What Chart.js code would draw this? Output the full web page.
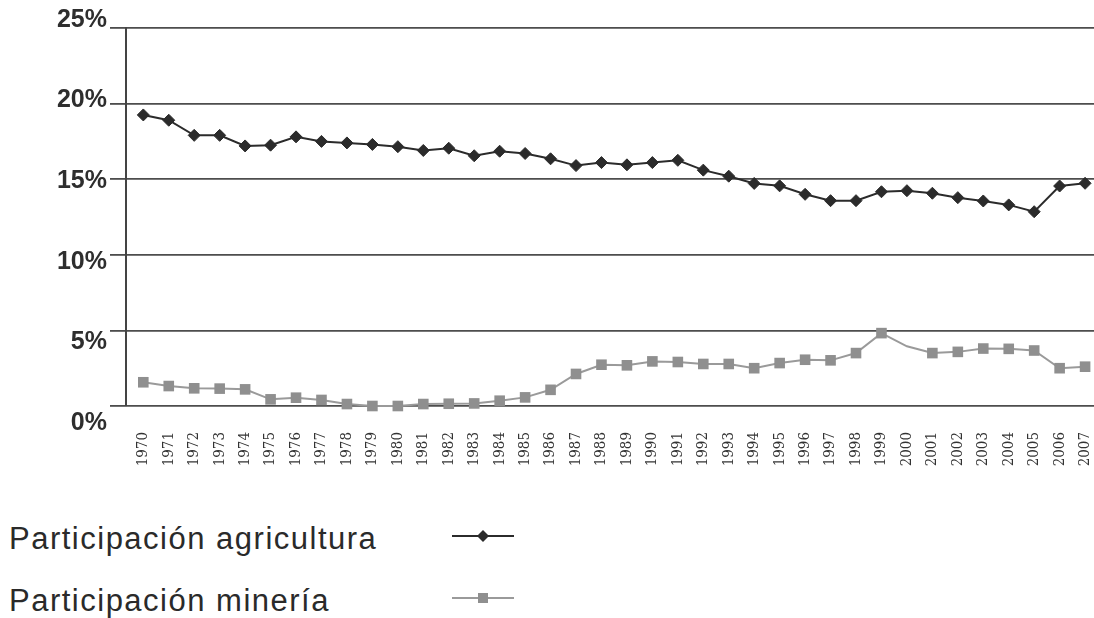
<!DOCTYPE html>
<html lang="es">
<head>
  <meta charset="UTF-8" />
  <title>Participación agricultura y minería</title>
  <script src="https://cdn.jsdelivr.net/npm/chart.js"></script>
  <style>
    html, body {
      margin: 0;
      overflow: hidden;
      background: #fff;
      font-family: 'Liberation Sans', Arial, sans-serif;
      color: #2a2a2a;
    }

    .chart-box {
      position: absolute;
      left: 0;
      top: 0;
      width: 1094px;
      height: 476px;
    }

    .legend {
      position: absolute;
      left: 9px;
      top: 508px;
    }

    .legend-row {
      display: flex;
      align-items: center;
      height: 62px;
      font-size: 31px;
      letter-spacing: 1.5px;
    }

    .legend-row span {
      width: 443px;
    }

    .legend-row svg {
      margin-top: -6px;
    }
  </style>
</head>
<body>

  <div class="chart-box">
    <canvas id="grafico"></canvas>
  </div>
  <div class="legend" id="leyenda"></div>

  <script>
    // Datos
    const years = [1970, 1971, 1972, 1973, 1974, 1975, 1976, 1977, 1978, 1979,
                   1980, 1981, 1982, 1983, 1984, 1985, 1986, 1987, 1988, 1989,
                   1990, 1991, 1992, 1993, 1994, 1995, 1996, 1997, 1998, 1999,
                   2000, 2001, 2002, 2003, 2004, 2005, 2006, 2007];

    const agricultura = [19.25, 18.9, 17.9, 17.9, 17.2, 17.25, 17.8, 17.5, 17.4, 17.3,
                         17.15, 16.9, 17.05, 16.55, 16.85, 16.7, 16.35, 15.9, 16.1, 15.95,
                         16.1, 16.25, 15.6, 15.2, 14.72, 14.56, 14.0, 13.58, 13.58, 14.17,
                         14.24, 14.07, 13.78, 13.56, 13.3, 12.85, 14.55, 14.73];

    const mineria = [1.57, 1.32, 1.17, 1.15, 1.1, 0.44, 0.55, 0.4, 0.13, 0.0,
                     0.0, 0.13, 0.15, 0.17, 0.35, 0.57, 1.07, 2.12, 2.73, 2.69,
                     2.95, 2.91, 2.78, 2.78, 2.5, 2.84, 3.06, 3.02, 3.5, 4.82,
                     3.95, 3.5, 3.58, 3.8, 3.78, 3.67, 2.5, 2.6];

    const yTicks = [0, 5, 10, 15, 20, 25];

    const toPoints = (values) => values.map((v, i) => ({ x: years[i], y: v }));

    const ctx = document.getElementById('grafico').getContext('2d');
    const grafico = new Chart(ctx, {
      type: 'line',
      data: {
        datasets: [{
          label: 'Participación agricultura',
          data: toPoints(agricultura),
          borderColor: '#2b2b2b',
          backgroundColor: '#2b2b2b',
          borderWidth: 2,
          pointStyle: 'rectRot',
          pointRadius: 6,
          pointBorderWidth: 1,
          tension: 0,
          clip: false
        }, {
          label: 'Participación minería',
          data: toPoints(mineria),
          borderColor: '#9a9a9a',
          backgroundColor: '#8f8f8f',
          borderWidth: 2,
          pointStyle: 'rect',
          // el año 2000 no lleva marcador en el original
          pointRadius: (c) => years[c.dataIndex] === 2000 ? 0 : 7.5,
          pointBorderWidth: 0,
          tension: 0,
          clip: false
        }]
      },
      options: {
        responsive: true,
        maintainAspectRatio: false,
        animation: false,
        layout: {
          autoPadding: false,
          padding: { top: 28, right: 0, bottom: 0, left: 0 }
        },
        plugins: {
          legend: { display: false },
          tooltip: { enabled: false }
        },
        scales: {
          x: {
            type: 'linear',
            min: 1969.32,
            max: 2007.35,
            grid: { display: false, drawTicks: false },
            border: { display: false },
            ticks: {
              stepSize: 1,
              maxTicksLimit: 40,
              includeBounds: false,
              autoSkip: false,
              minRotation: 90,
              maxRotation: 90,
              padding: 26,
              color: '#333',
              font: { family: "'DejaVu Serif Condensed', 'Liberation Serif', serif", size: 15 },
              callback: (v) => String(v)
            },
            afterFit: (scale) => {
              scale.height = 70;
              scale.paddingLeft = 0;
              scale.paddingRight = 0;
            }
          },
          y: {
            min: 0,
            max: 25,
            weight: 0,
            grid: { color: '#4d4d4d', lineWidth: 1.8, tickLength: 16 },
            border: { display: true, color: '#444', width: 2 },
            ticks: { stepSize: 5, display: false },
            afterFit: (scale) => { scale.width = 16; }
          },
          // eje solo para las etiquetas, con la escala un poco desplazada como en el original
          yl: {
            type: 'linear',
            position: 'left',
            weight: 10,
            min: 1.05,
            max: 24.5,
            grid: { display: false, drawTicks: false },
            border: { display: false },
            ticks: {
              padding: 3,
              color: '#2e2e2e',
              font: { family: "'Liberation Sans', Arial, sans-serif", size: 25, weight: 'bold' },
              callback: (v) => v + '%'
            },
            afterBuildTicks: (scale) => { scale.ticks = yTicks.map(v => ({ value: v })); },
            afterFit: (scale) => { scale.width = 110; }
          }
        }
      }
    });

    // Leyenda en HTML (texto a la izquierda, símbolo a la derecha)
    const leyenda = document.getElementById('leyenda');
    grafico.data.datasets.forEach((ds) => {
      const row = document.createElement('div');
      row.className = 'legend-row';
      const marker = ds.pointStyle === 'rectRot'
        ? '<polygon points="31,1 37,7 31,13 25,7" fill="' + ds.backgroundColor + '"/>'
        : '<rect x="26" y="2" width="10" height="10" fill="' + ds.backgroundColor + '"/>';
      row.innerHTML = '<span>' + ds.label + '</span>' +
        '<svg width="62" height="14"><line x1="0" y1="7" x2="62" y2="7" stroke="' +
        ds.borderColor + '" stroke-width="2"/>' + marker + '</svg>';
      leyenda.appendChild(row);
    });
  </script>
</body>
</html>
